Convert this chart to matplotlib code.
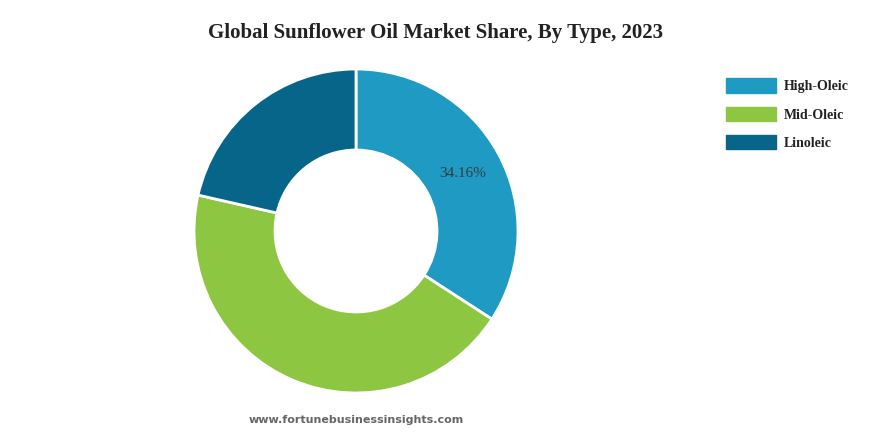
import matplotlib
matplotlib.use("Agg")
import matplotlib.pyplot as plt
from matplotlib.patches import Patch
import numpy as np

categories = ["High-Oleic", "Mid-Oleic", "Linoleic"]
shares = [34.16, 44.40, 21.44]
colors = ["#1E9AC3", "#8DC641", "#066589"]
title = "Global Sunflower Oil Market Share, By Type, 2023"
watermark = "www.fortunebusinessinsights.com"

W, H = 870, 434
fig = plt.figure(figsize=(W / 100, H / 100), dpi=100)
fig.patch.set_facecolor("white")

cx, cy, r = 356, 434 - 231, 162
ax = fig.add_axes([(cx - r) / W, (cy - r) / H, 2 * r / W, 2 * r / H])
wedges, texts = ax.pie(
    shares, colors=colors, startangle=90, counterclock=False, radius=1.0,
    wedgeprops=dict(width=0.5, edgecolor="white", linewidth=2),
)
ax.set_xlim(-1, 1)
ax.set_ylim(-1, 1)
ax.set_aspect("equal")
ax.axis("off")

w = wedges[0]
mid = np.deg2rad((w.theta1 + w.theta2) / 2)
ax.text(0.75 * np.cos(mid), 0.75 * np.sin(mid), f"{shares[0]:.2f}%",
        ha="center", va="center", fontsize=11, family="Liberation Serif",
        color="#333b44")

fig.text(436 / W, 1 - 33 / H, title, ha="center", va="center",
         fontsize=15, fontweight="bold", family="Liberation Serif",
         color="#222222")

handles = [Patch(facecolor=c, edgecolor=c) for c in colors]
leg = fig.legend(handles, categories, loc="upper left",
                 bbox_to_anchor=(714 / W, 1 - 66 / H), frameon=False,
                 handlelength=3.6, handleheight=1.2, labelspacing=0.97,
                 handletextpad=0.5,
                 prop=dict(family="Liberation Serif", weight="bold", size=10))
for t in leg.get_texts():
    t.set_color("#222222")

fig.text(356 / W, 1 - 420 / H, watermark, ha="center", va="center",
         fontsize=8, fontweight="bold", family="DejaVu Sans",
         color="#666666")

fig.savefig("out.png", dpi=100, facecolor="white")
